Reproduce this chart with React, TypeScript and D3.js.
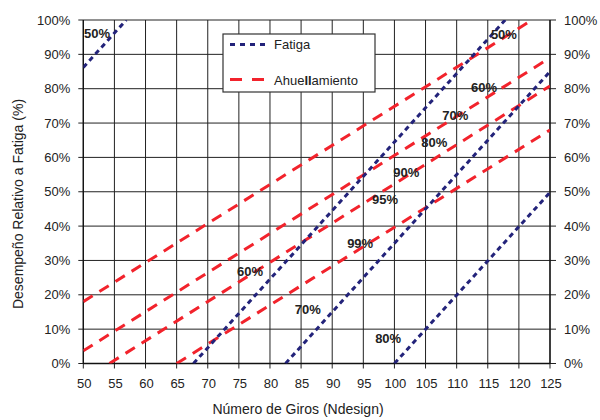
import React from "react";
import * as d3 from "d3";

const xTicks = [50, 55, 60, 65, 70, 75, 80, 85, 90, 95, 100, 105, 110, 115, 120, 125];
const yTicks = [0, 10, 20, 30, 40, 50, 60, 70, 80, 90, 100];

// Fatiga lines: [Ndesign, %] endpoints
const fatigaLines: [number, number][][] = [
  [[50, 86.2], [56.9, 100]],
  [[67.7, 0], [117.8, 100]],
  [[82.5, 0], [125, 85]],
  [[100, 0], [125, 49.8]],
];
// Ahuellamiento lines
const ahuellLines: [number, number][][] = [
  [[50, 18], [122.1, 100]],
  [[50, 3.7], [125, 89]],
  [[54.2, 0], [125, 80.8]],
  [[65, 0], [125, 68]],
];

const fatigaLabels: [number, number, string][] = [
  [50.1, 94.8, "50%"],
  [74.7, 25.4, "60%"],
  [84.0, 14.4, "70%"],
  [96.9, 6.0, "80%"],
];
const ahuellLabels: [number, number, string][] = [
  [115.5, 94.5, "50%"],
  [112.3, 79.0, "60%"],
  [107.7, 70.9, "70%"],
  [104.3, 63.0, "80%"],
  [99.8, 54.3, "90%"],
  [96.4, 46.4, "95%"],
  [92.4, 33.6, "99%"],
];

const BLUE = "#23237a";
const RED = "#f2232c";
const FONT = "'Liberation Sans', Arial, sans-serif";

export default function App() {
  const x = d3.scaleLinear().domain([50, 125]).range([83.3, 550]);
  const y = d3.scaleLinear().domain([0, 100]).range([363.5, 20]);
  const line = d3
    .line<[number, number]>()
    .x((d) => x(d[0]))
    .y((d) => y(d[1]));

  const x0 = x(50), x1 = x(125), y0 = y(0), y1 = y(100);

  return (
    <svg
      width={600}
      height={420}
      style={{ position: "absolute", left: 0, top: 0, background: "#fff" }}
      fontFamily={FONT}
    >
      <defs>
        <clipPath id="plot">
          <rect x={x0} y={y1} width={x1 - x0} height={y0 - y1} />
        </clipPath>
      </defs>
      <rect width={600} height={420} fill="#fff" />
      {/* grid */}
      {xTicks.map((t) => (
        <line key={"gx" + t} x1={x(t)} x2={x(t)} y1={y1} y2={y0 + 5} stroke="#222" strokeWidth={1} />
      ))}
      {yTicks.map((t) => (
        <line key={"gy" + t} x1={x0 - 5} x2={x1 + 6} y1={y(t)} y2={y(t)} stroke="#222" strokeWidth={1} />
      ))}
      {/* axes */}
      <line x1={x0} x2={x0} y1={y1} y2={y0} stroke="#111" strokeWidth={1.3} />
      <line x1={x1} x2={x1} y1={y1} y2={y0} stroke="#111" strokeWidth={1.3} />
      <line x1={x0} x2={x1} y1={y0} y2={y0} stroke="#111" strokeWidth={1.3} />

      <g clipPath="url(#plot)">
        {ahuellLines.map((l, i) => (
          <path key={"r" + i} d={line(l) || ""} fill="none" stroke={RED} strokeWidth={3} strokeDasharray="11,8" />
        ))}
        {fatigaLines.map((l, i) => (
          <path key={"b" + i} d={line(l) || ""} fill="none" stroke={BLUE} strokeWidth={3} strokeDasharray="5,4" />
        ))}
      </g>

      {/* labels */}
      {[...fatigaLabels, ...ahuellLabels].map((d, i) => (
        <text key={"l" + i} x={x(d[0])} y={y(d[1])} fontSize={13} fontWeight="bold" fill="#222">
          {d[2]}
        </text>
      ))}

      {/* tick labels */}
      {yTicks.map((t) => (
        <text key={"yl" + t} x={x0 - 13} y={y(t) + 4.5} fontSize={13} textAnchor="end" fill="#222">
          {t + "%"}
        </text>
      ))}
      {yTicks.map((t) => (
        <text key={"yr" + t} x={x1 + 14} y={y(t) + 4.5} fontSize={13} textAnchor="start" fill="#222">
          {t + "%"}
        </text>
      ))}
      {xTicks.map((t) => (
        <text key={"xl" + t} x={x(t) + 1} y={388} fontSize={13} textAnchor="middle" fill="#222">
          {t}
        </text>
      ))}

      <text x={298} y={414} fontSize={14} textAnchor="middle" fill="#222">
        Número de Giros (Ndesign)
      </text>
      <text
        transform={`translate(23,204) rotate(-90)`}
        fontSize={14}
        textAnchor="middle"
        fill="#222"
      >
        Desempeño Relativo a Fatiga (%)
      </text>

      {/* legend */}
      <rect x={223} y={34} width={152} height={58} fill="#fff" stroke="#333" strokeWidth={1.2} />
      <line x1={230} x2={269} y1={44.5} y2={44.5} stroke={BLUE} strokeWidth={3} strokeDasharray="5,5" />
      <text x={274} y={48.5} fontSize={13} fill="#222">Fatiga</text>
      <line x1={230} x2={264} y1={79.5} y2={79.5} stroke={RED} strokeWidth={3} strokeDasharray="12,10" />
      <text x={274} y={85} fontSize={13} fill="#222">
        Ahue<tspan fontWeight="bold">ll</tspan>amiento
      </text>
    </svg>
  );
}
